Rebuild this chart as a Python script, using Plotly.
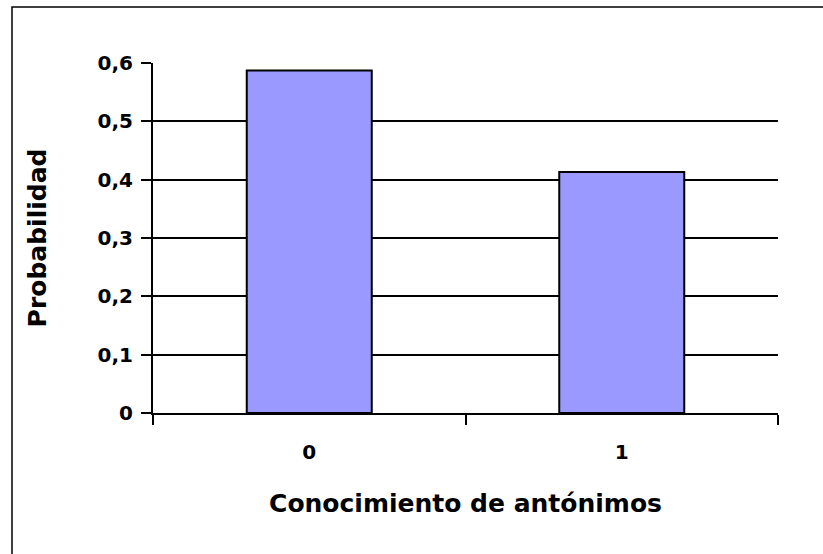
import plotly.graph_objects as go

categories = ["0", "1"]
probabilities = [0.587, 0.413]
y_tick_values = [0, 0.1, 0.2, 0.3, 0.4, 0.5, 0.6]
x_title = "Conocimiento de antónimos"
y_title = "Probabilidad"

FONT = "DejaVu Sans"

fig = go.Figure()
fig.add_trace(go.Bar(
    x=categories,
    y=probabilities,
    marker=dict(color="#9999FF", line=dict(color="black", width=2)),
    width=0.4,
))

W, H = 823, 554
L, R, T, B = 153, 45, 63, 141
pw, ph = W - L - R, H - T - B

def px_to_paper_x(px):
    return (px - L) / pw

def px_to_paper_y(py):
    return (H - B - py) / ph

fig.update_layout(
    width=W, height=H,
    margin=dict(l=L, r=R, t=T, b=B, autoexpand=False),
    paper_bgcolor="white", plot_bgcolor="white",
    separators=", ",
    showlegend=False,
    font=dict(family=FONT, color="black"),
    bargap=0.6,
    shapes=[dict(
        type="rect", xref="paper", yref="paper",
        x0=px_to_paper_x(12), x1=px_to_paper_x(850),
        y0=px_to_paper_y(580), y1=px_to_paper_y(7),
        line=dict(color="black", width=1.5), fillcolor="rgba(0,0,0,0)",
        layer="below",
    )],
)

fig.update_xaxes(
    type="category",
    showline=True, linecolor="black", linewidth=2,
    ticks="outside", ticklen=10, tickwidth=2, tickcolor="black",
    tickson="boundaries",
    showgrid=False,
    tickfont=dict(family=FONT, size=20, color="black", weight="bold"),
    ticklabelstandoff=20,
    title=dict(text=x_title, font=dict(family=FONT, size=25, color="black", weight="bold"), standoff=31),
    automargin=False,
)
fig.update_yaxes(
    range=[0, 0.6],
    tickvals=y_tick_values,
    showline=True, linecolor="black", linewidth=2,
    ticks="outside", ticklen=10, tickwidth=2, tickcolor="black",
    showgrid=True, gridcolor="black", gridwidth=2,
    zeroline=False,
    tickfont=dict(family=FONT, size=20, color="black", weight="bold"),
    ticklabelstandoff=4,
    title=dict(text=y_title, font=dict(family=FONT, size=25, color="black", weight="bold"), standoff=44),
    automargin=False,
)

fig.write_html(
    "out.html",
    config={"displayModeBar": False, "staticPlot": True},
    post_script="document.body.style.margin='0';document.body.style.overflow='hidden';",
)
